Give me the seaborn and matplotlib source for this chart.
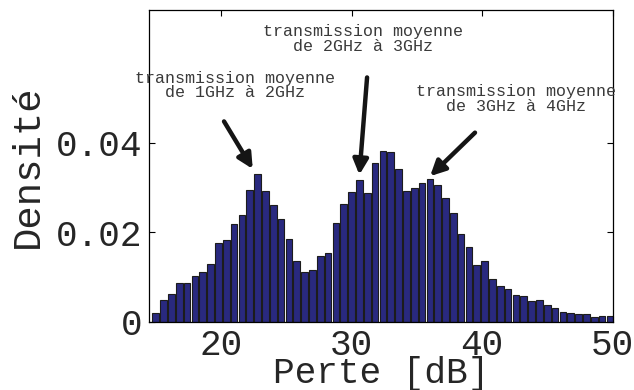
import numpy as np
import pandas as pd
import matplotlib
matplotlib.use("Agg")
import matplotlib.pyplot as plt
import seaborn as sns

# Histogram of path loss: bin centres (dB) and density per bin
bin_width = 0.6
loss_db = [15.0 + bin_width * i for i in range(59)]
density = [
    0.0019, 0.0050, 0.0063, 0.0086, 0.0086, 0.0103, 0.0112, 0.0130, 0.0177, 0.0183,
    0.0218, 0.0238, 0.0294, 0.0330, 0.0292, 0.0260, 0.0229, 0.0185, 0.0136, 0.0111,
    0.0115, 0.0147, 0.0153, 0.0221, 0.0262, 0.0290, 0.0316, 0.0288, 0.0354, 0.0381,
    0.0378, 0.0340, 0.0293, 0.0299, 0.0310, 0.0319, 0.0305, 0.0276, 0.0244, 0.0196,
    0.0167, 0.0127, 0.0135, 0.0095, 0.0080, 0.0074, 0.0060, 0.0057, 0.0047, 0.0048,
    0.0037, 0.0031, 0.0023, 0.0019, 0.0017, 0.0017, 0.0011, 0.0013, 0.0013,
]

x_ticks = [20, 30, 40, 50]
y_ticks = [0, 0.02, 0.04]
y_tick_labels = ["0", "0.02", "0.04"]

# (text, text centre, arrow tail, arrow tip) in data coordinates
annotations = [
    ("transmission moyenne\nde 1GHz à 2GHz", (21.07, 0.0527), (20.23, 0.0447), (22.43, 0.0341)),
    ("transmission moyenne\nde 2GHz à 3GHz", (30.88, 0.0631), (31.19, 0.0545), (30.60, 0.0328)),
    ("transmission moyenne\nde 3GHz à 4GHz", (42.60, 0.0497), (39.46, 0.0422), (36.02, 0.0325)),
]

sns.set_style("white")
plt.rcParams["font.family"] = ["Liberation Mono", "DejaVu Sans Mono"]

fig = plt.figure(figsize=(6.34, 3.90), dpi=100)
ax = fig.add_axes([0.235, 0.1744, 0.732, 0.7996])

hist_df = pd.DataFrame({"loss": loss_db, "density": density})
lo = loss_db[0] - bin_width / 2
hi = loss_db[-1] + bin_width / 2
sns.histplot(
    data=hist_df, x="loss", weights="density", binwidth=bin_width, binrange=(lo, hi),
    shrink=0.85, color="#29297f", edgecolor="#1c1c1c", linewidth=0.8, alpha=1.0, ax=ax,
)

ax.set_xlim(14.48, 50.04)
ax.set_ylim(0, 0.0695)
ax.set_xticks(x_ticks)
ax.set_xticklabels([str(t) for t in x_ticks])
ax.set_yticks(y_ticks)
ax.set_yticklabels(y_tick_labels)
ax.tick_params(axis="both", direction="in", length=4, width=0.8, color="black",
               top=True, right=True, bottom=True, left=True, labelsize=26,
               labelcolor="#262626")
ax.tick_params(axis="x", pad=4)
ax.tick_params(axis="y", pad=5)
for s in ax.spines.values():
    s.set_color("black")
    s.set_linewidth(0.9)
    s.set_visible(True)

ax.set_xlabel("Perte [dB]", fontsize=26, labelpad=-5, color="#262626")
ax.set_ylabel("Densité", fontsize=28, labelpad=7, color="#262626")

for text, pos, tail, tip in annotations:
    ax.text(pos[0], pos[1], text, ha="center", va="center", multialignment="center",
            fontsize=12, color="#3a3a3a", linespacing=0.95, clip_on=False)
    ax.annotate("", xy=tip, xytext=tail,
                arrowprops=dict(arrowstyle="-|>,head_length=0.9,head_width=0.45",
                                color="#151515", lw=3.2, shrinkA=0, shrinkB=0))

fig.savefig("out.png", dpi=100)
